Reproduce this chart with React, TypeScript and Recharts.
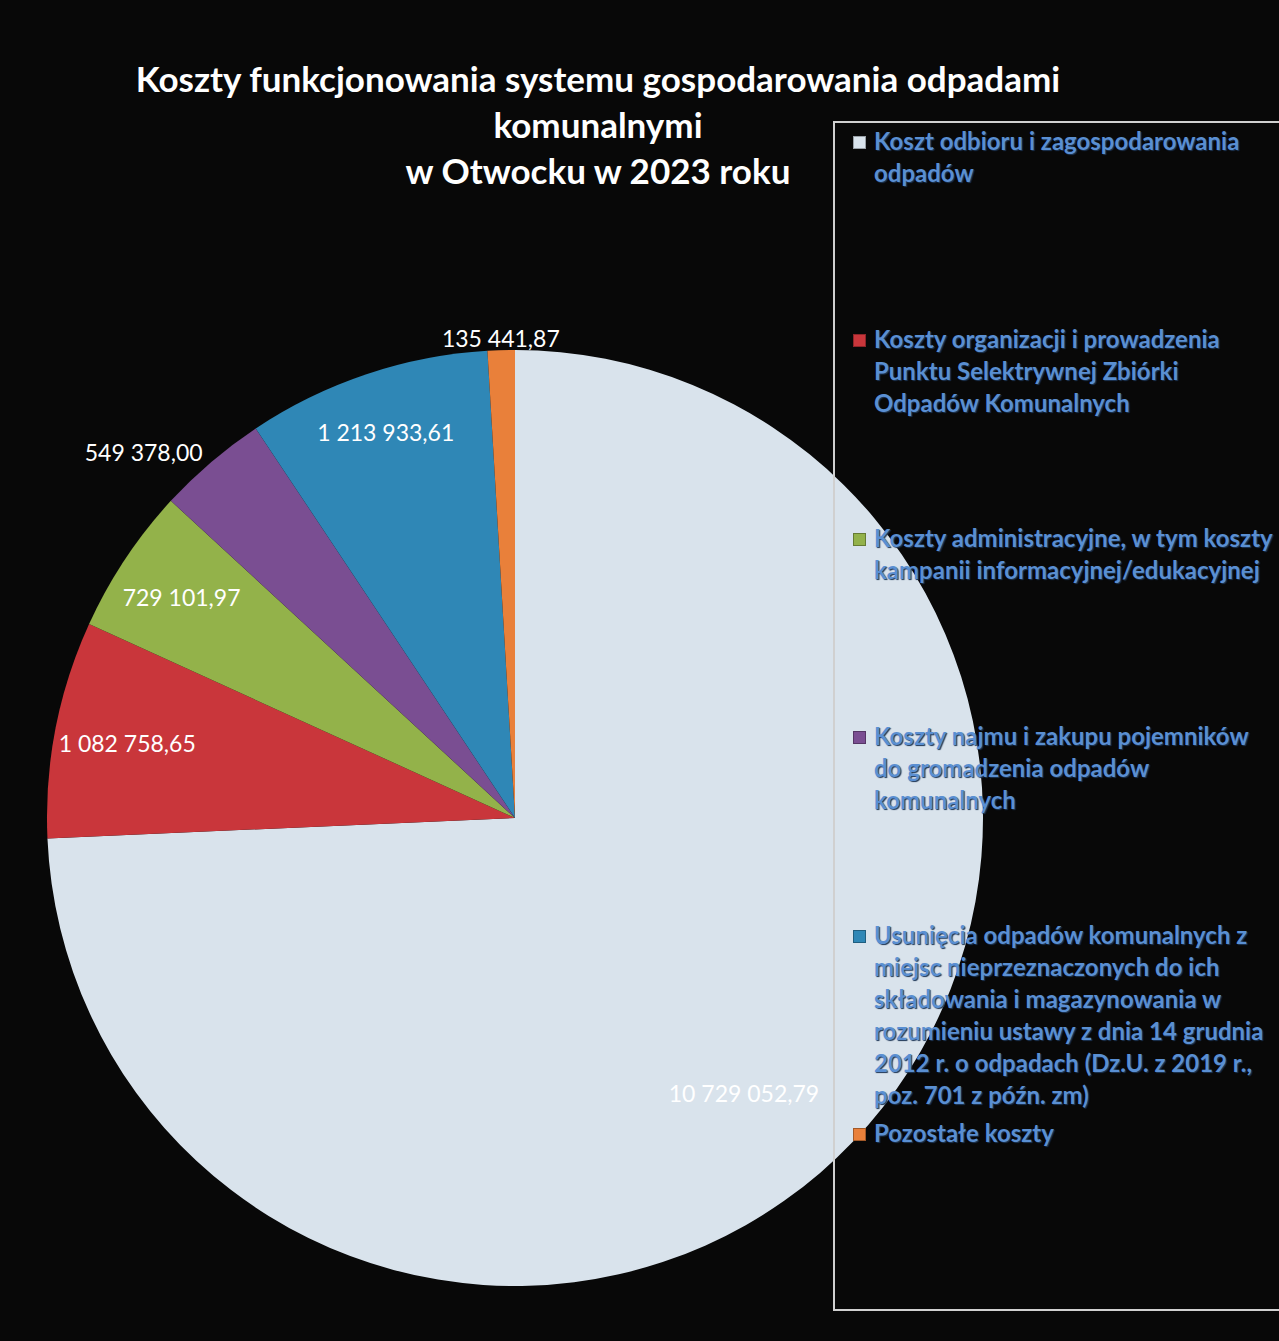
import React from 'react';
import { PieChart, Pie, Cell, Legend } from 'recharts';

// categories (legend text, wrapped as in the original)
const categories = [
  'Koszt odbioru i zagospodarowania\nodpadów',
  'Koszty organizacji i prowadzenia\nPunktu Selektrywnej Zbiórki\nOdpadów Komunalnych',
  'Koszty administracyjne, w tym koszty\nkampanii informacyjnej/edukacyjnej',
  'Koszty najmu i zakupu pojemników\ndo gromadzenia odpadów\nkomunalnych',
  'Usunięcia odpadów komunalnych z\nmiejsc nieprzeznaczonych do ich\nskładowania i magazynowania w\nrozumieniu ustawy z dnia 14 grudnia\n2012 r. o odpadach (Dz.U. z 2019 r.,\npoz. 701 z późn. zm)',
  'Pozostałe koszty',
];

const values = [10729052.79, 1082758.65, 729101.97, 549378.0, 1213933.61, 135441.87];

const colors = ['#d9e3ec', '#c9363b', '#93b24a', '#7a4e92', '#2f87b6', '#e9803a'];

const titleLines = [
  'Koszty funkcjonowania systemu gospodarowania odpadami',
  'komunalnymi',
  'w Otwocku w 2023 roku',
];

// label placement per slice: radius factor, angle shift (deg), text anchor
const labelRadius = [0.765, 0.844, 0.855, 1.028, 0.87, 1.026];
const labelShift = [-6.5, 0, 0, 0, 0, 0];
const labelAnchor = ['middle', 'middle', 'middle', 'end', 'middle', 'middle'];

const data = categories.map((name, i) => ({ name, value: values[i] }));

const fmt = (v: number) => {
  const [int, dec] = v.toFixed(2).split('.');
  return int.replace(/\B(?=(\d{3})+(?!\d))/g, ' ') + ',' + dec;
};

const RAD = Math.PI / 180;

const renderLabel = (props: any) => {
  const { cx, cy, midAngle, outerRadius, index, value } = props;
  const r = outerRadius * labelRadius[index];
  const a = (midAngle + labelShift[index]) * RAD;
  const x = cx + r * Math.cos(-a);
  const y = cy + r * Math.sin(-a);
  return (
    <text
      x={x}
      y={y}
      fill="#ffffff"
      textAnchor={labelAnchor[index] as any}
      dominantBaseline="central"
      style={{ fontFamily: 'Lato, sans-serif', fontSize: 23 }}
    >
      {fmt(value)}
    </text>
  );
};

const LegendBox = () => (
  <div
    style={{
      position: 'relative',
      width: 480,
      height: 1190,
      border: '2px solid #d0d0d0',
      boxSizing: 'border-box',
      fontFamily: 'Lato, sans-serif',
      fontWeight: 700,
      fontSize: 24,
      lineHeight: '32px',
      color: '#5a8fd2',
      textShadow: '1px 1px 1px #1c3556',
    }}
  >
    {categories.map((name, i) => (
      <div key={i} style={{ position: 'absolute', left: 18, top: 2 + i * 198.4, whiteSpace: 'pre' }}>
        <span
          style={{
            display: 'inline-block',
            width: 11,
            height: 11,
            marginRight: 8,
            background: colors[i],
            border: '1px solid rgba(0,0,0,0.3)',
            verticalAlign: 'top',
            marginTop: 11,
          }}
        />
        <span style={{ display: 'inline-block', verticalAlign: 'top' }}>{name}</span>
      </div>
    ))}
  </div>
);

export default function App() {
  return (
    <div
      style={{
        position: 'absolute',
        left: 0,
        top: 0,
        width: 1279,
        height: 1341,
        background: '#080808',
        overflow: 'hidden',
      }}
    >
      <div
        style={{
          position: 'absolute',
          left: 0,
          top: 55,
          width: 1196,
          textAlign: 'center',
          color: '#ffffff',
          fontFamily: 'Lato, sans-serif',
          fontWeight: 700,
          fontSize: 35,
          lineHeight: '46px',
          zIndex: 2,
        }}
      >
        {titleLines.map((t, i) => (
          <div key={i}>{t}</div>
        ))}
      </div>
      <PieChart width={1279} height={1341} margin={{ top: 0, right: 0, bottom: 0, left: 0 }}>
        <Pie
          data={data}
          dataKey="value"
          nameKey="name"
          cx={515}
          cy={818}
          outerRadius={468}
          startAngle={90}
          endAngle={-270}
          stroke="none"
          label={renderLabel}
          labelLine={false}
          isAnimationActive={false}
        >
          {data.map((d, i) => (
            <Cell key={d.name} fill={colors[i]} />
          ))}
        </Pie>
        <Legend
          layout="vertical"
          align="right"
          verticalAlign="top"
          content={() => <LegendBox />}
          wrapperStyle={{ left: 833, top: 121, width: 480, height: 1190 }}
        />
      </PieChart>
    </div>
  );
}
